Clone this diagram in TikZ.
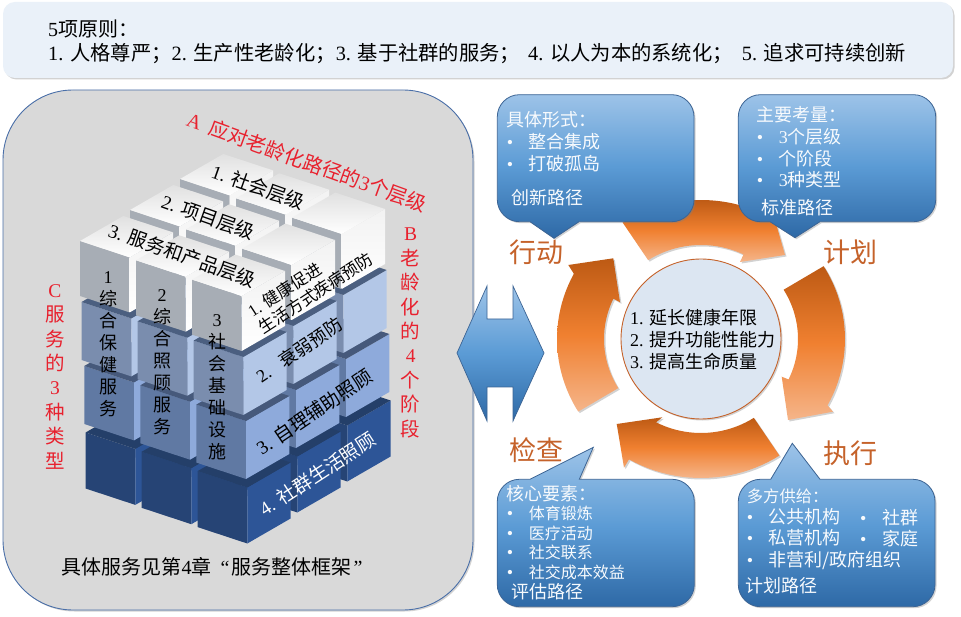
\documentclass[tikz,border=0pt]{standalone}
\usepackage{fontspec}
\setmainfont{Noto Sans CJK SC}
\newfontfamily\latnfont{Liberation Serif}
\newcommand{\latn}[1]{{\latnfont #1}}
\newcommand{\bul}{\makebox[22pt][l]{\latnfont •}}
\usetikzlibrary{shadows}
\definecolor{panelgray}{HTML}{D9D9D9}
\definecolor{panelline}{HTML}{4A6FA8}
\definecolor{boxline}{HTML}{3C6494}
\definecolor{arrowtext}{HTML}{C5622A}
\definecolor{redtext}{HTML}{E8212E}
\definecolor{bannerblue}{HTML}{EAF1F9}
\definecolor{goalblue}{HTML}{DCE6F2}
\tikzset{
  softshadow/.style={drop shadow={opacity=0.35,shadow xshift=1.5pt,shadow yshift=-1.5pt}},
  calloutbox/.style={draw=boxline,line width=0.8pt,top color=boxtop,bottom color=boxlow,middle color=boxmid,softshadow},
  boxtext/.style={text=white!92!boxtop,anchor=west,align=left,inner sep=0pt,font=\fontsize{18}{21.7}\selectfont},
  ringarrow/.style={top color=ringtop,bottom color=ringlow,middle color=ringmid,softshadow},
  ringlabel/.style={text=arrowtext,inner sep=0pt,font=\fontsize{27}{30}\selectfont},
  sidelabel/.style={text=redtext,inner sep=0pt,align=center,font=\fontsize{19.5}{24.4}\selectfont},
  coltext/.style={inner sep=0pt,align=center,font=\fontsize{18}{22}\selectfont},
  cubetext/.style={inner sep=0pt,font=\fontsize{19}{22}\selectfont},
  toptile/.style={top color=white!88!black,bottom color=white},
  sidetile/.style={top color=white!95!black,bottom color=white},
  greytile/.style={fill=greyside},
  toptwo/.style={fill=darktwo},lefttwo/.style={fill=lefttwocol},righttwo/.style={fill=righttwocol},
  topthree/.style={fill=darkthree},leftthree/.style={fill=leftthreecol},rightthree/.style={fill=rightthreecol},
  topfour/.style={fill=darkfour},leftfour/.style={fill=leftfourcol},rightfour/.style={fill=rightfourcol},
}
\definecolor{boxtop}{HTML}{9DC3E8}
\definecolor{boxmid}{HTML}{5B9BD5}
\definecolor{boxlow}{HTML}{2E69A6}
\definecolor{ringtop}{HTML}{BD5A14}
\definecolor{ringmid}{HTML}{F08030}
\definecolor{ringlow}{HTML}{F5B58A}
\definecolor{greyside}{HTML}{A7ADB5}
\definecolor{darktwo}{HTML}{4B5F80}
\definecolor{lefttwocol}{HTML}{7A8DAE}
\definecolor{righttwocol}{HTML}{B3C7E7}
\definecolor{darkthree}{HTML}{46597B}
\definecolor{leftthreecol}{HTML}{6079A3}
\definecolor{rightthreecol}{HTML}{8EAADB}
\definecolor{darkfour}{HTML}{243F69}
\definecolor{leftfourcol}{HTML}{264475}
\definecolor{rightfourcol}{HTML}{2D5597}
% tail angle, shoulder outer, shoulder inner, outer barb, tip, inner barb
\newcommand{\ringarc}[6]{
\path[ringarrow] plot[domain=#1:#2,samples=24,variable=\t] ({701+144*cos(\t)},{339+139*sin(\t)})
  -- #4 -- #5 -- #6
  -- plot[domain=#3:#1,samples=24,variable=\t] ({701+97*cos(\t)},{339+94*sin(\t)}) -- cycle;
}
% left, top, right, bottom, pointer on the top edge, pointer on the bottom edge
\newcommand{\balloon}[6]{
\path[calloutbox] ({#1+22},#2) #5 -- ({#3-22},#2) .. controls ({#3-10},#2) and (#3,{#2+10}) .. (#3,{#2+22})
  -- (#3,{#4-22}) .. controls (#3,{#4-10}) and ({#3-10},#4) .. ({#3-22},#4) #6
  -- ({#1+22},#4) .. controls ({#1+10},#4) and (#1,{#4-10}) .. (#1,{#4-22})
  -- (#1,{#2+22}) .. controls (#1,{#2+10}) and ({#1+10},#2) .. cycle;
}
\begin{document}
\begin{tikzpicture}[x=1pt,y=-1pt]
\useasboundingbox (0,0) rectangle (961,617);
\fill[white] (0,0) rectangle (961,617);
% banner
\path[rounded corners=12pt,fill=bannerblue,softshadow] (3,2) rectangle (953,78);
\node[anchor=west,inner sep=0pt,font=\fontsize{20}{24}\selectfont] (rule) at (48,29) {\latn{5}项原则：};
\node[anchor=west,inner sep=0pt,font=\fontsize{20.3}{24}\selectfont] (rules) at (48,54) {\latn{1. }人格尊严；\latn{2. }生产性老龄化；\latn{3. }基于社群的服务；\hspace{8pt}\latn{4. }以人为本的系统化；\hspace{9pt}\latn{5. }追求可持续创新};
% left panel
\path[rounded corners=70pt,draw=panelline,line width=0.9pt,fill=panelgray,softshadow] (3,90) rectangle (473,610);
% cube, bottom row first
\foreach \fx/\fy/\hh/\ctop/\cleft/\cright in {247.3/487.5/56/topfour/leftfour/rightfour,246/421/58/topthree/leftthree/rightthree,243.3/357/58/toptwo/lefttwo/righttwo,241.7/296/55/toptile/greytile/sidetile}
  \foreach \ci in {2,1,0}
    \foreach \cj in {2,1,0}{
      \pgfmathsetmacro{\bx}{\fx-\ci*56+\cj*50}
      \pgfmathsetmacro{\by}{\fy-\ci*19.3-\cj*31}
      \path[\cleft] (\bx,\by) -- ++(-49.7,-16.4) -- ++(0,\hh) -- ++(49.7,16.4) -- cycle;
      \path[\cright] (\bx,\by) -- ++(43.3,-25) -- ++(0,\hh) -- ++(-43.3,25) -- cycle;
      \path[\ctop] (\bx,\by) -- ++(-49.7,-16.4) -- ++(43.3,-25) -- ++(49.7,16.4) -- cycle;
    }
% cube labels
\node[cubetext,rotate=-19.5] (lvlone) at (258,187) {\latn{1. }社会层级};
\node[cubetext,rotate=-19.5] (lvltwo) at (208,217) {\latn{2. }项目层级};
\node[cubetext,rotate=-19.5] (lvlthree) at (182,255) {\latn{3. }服务和产品层级};
\node[coltext] (colone) at (108,344.5) {\latn{1}\\综\\合\\保\\健\\服\\务};
\node[coltext] (coltwo) at (162,362) {\latn{2}\\综\\合\\照\\顾\\服\\务};
\node[coltext] (colthree) at (217,387) {\latn{3}\\社\\会\\基\\础\\设\\施};
\node[inner sep=0pt,rotate=33,align=left,font=\fontsize{16.5}{20}\selectfont] (stepone) at (310,285) {\latn{1. }健康促进\\生活方式疾病预防};
\node[cubetext,rotate=34,font=\fontsize{18}{20}\selectfont] (steptwo) at (299,350) {\latn{2.}\hspace{14pt}衰弱预防};
\node[cubetext,rotate=34] (stepthree) at (314,412) {\latn{3. }自理辅助照顾};
\node[cubetext,rotate=33,text=white] (stepfour) at (317.5,474) {\latn{4. }社群生活照顾};
\node[sidelabel,rotate=-20,font=\fontsize{20}{24}\selectfont] (labela) at (307,162) {\latn{A}\hspace{9pt}应对老龄化路径的\latn{3}个层级};
\node[sidelabel] (labelb) at (410.7,333) {\latn{B}\\老\\龄\\化\\的\\\latn{4}\\个\\阶\\段};
\node[sidelabel] (labelc) at (55,376.7) {\latn{C}\\服\\务\\的\\\latn{3}\\种\\类\\型};
\node[inner sep=0pt,font=\fontsize{20}{24}\selectfont] (note) at (212,567) {具体服务见第\latn{4}章\hspace{9pt}\latn{“}\hspace{2pt}服务整体框架\hspace{2pt}\latn{”}};
% double arrow
\path[draw=boxline,line width=0.7pt,top color=boxtop,bottom color=boxlow,middle color=boxmid] (457,353) -- (487,286) -- (487,319) -- (513,319) -- (513,286) -- (544,353) -- (513,421) -- (513,387) -- (487,387) -- (487,421) -- cycle;
% ring
\ringarc{237}{296}{296}{(769,199)}{(785,255)}{(740,262)}
\ringarc{-31.6}{28.5}{25.5}{(833,411.7)}{(788,420)}{(781.7,376.7)}
\ringarc{57}{120}{117.6}{(624,467.7)}{(616.7,424)}{(662.3,417.3)}
\ringarc{148.5}{208}{205.4}{(568.3,265)}{(613.3,258.3)}{(620,302.3)}
\node[circle,draw=arrowtext,line width=0.9pt,fill=goalblue,minimum size=160pt,inner sep=0pt,softshadow] (goal) at (701,339) {};
\node[anchor=west,inner sep=0pt,align=left,font=\fontsize{18}{22}\selectfont] (goaltext) at (630,340) {\latn{1. }延长健康年限\\\latn{2. }提升功能性能力\\\latn{3. }提高生命质量};
\node[ringlabel] (act) at (536,252) {行动};
\node[ringlabel] (plan) at (850,252) {计划};
\node[ringlabel] (check) at (536,450) {检查};
\node[ringlabel] (run) at (850.7,453) {执行};
% callouts
\balloon{497.3}{94.7}{694}{221.7}{}{-- (579,221.7) -- (554,238.3) -- (530,221.7)}
\balloon{738.3}{94.7}{935.7}{221.7}{}{-- (820,221.7) -- (795,237.7) -- (770,221.7)}
\balloon{497.3}{479.3}{694.3}{606.7}{-- (530,479.3) -- (593.3,447.3) -- (579.3,479.3)}{}
\balloon{738.3}{479.3}{935}{606.7}{-- (770.7,479.3) -- (792.3,443.3) -- (820,479.3)}{}
\node[boxtext] (formtext) at (506.7,141.5) {具体形式：\\\bul 整合集成\\\bul 打破孤岛};
\node[boxtext] (formpath) at (511.7,197.7) {创新路径};
\node[boxtext] (weightext) at (756.7,147.5) {主要考量：\\\bul \latn{3}个层级\\\bul 个阶段\\\bul \latn{3}种类型};
\node[boxtext] (weighpath) at (761.7,207.3) {标准路径};
\node[boxtext,font=\fontsize{18}{19.5}\selectfont] (coretext) at (506.7,532.5) {核心要素：\\\bul {\fontsize{16}{19.5}\selectfont 体育锻炼}\\\bul {\fontsize{16}{19.5}\selectfont 医疗活动}\\\bul {\fontsize{16}{19.5}\selectfont 社交联系}\\\bul {\fontsize{16}{19.5}\selectfont 社交成本效益}};
\node[boxtext] (corepath) at (511.7,591.7) {评估路径};
\node[boxtext,font=\fontsize{16.3}{20}\selectfont] (supplyhead) at (746.7,496) {多方供给：};
\node[boxtext] (supplytext) at (746.7,539) {\bul 公共机构\\\bul 私营机构\\\bul 非营利/政府组织};
\node[boxtext] (supplyside) at (860,528) {\bul 社群\\\bul 家庭};
\node[boxtext] (supplypath) at (745,586) {计划路径};
\end{tikzpicture}
\end{document}
